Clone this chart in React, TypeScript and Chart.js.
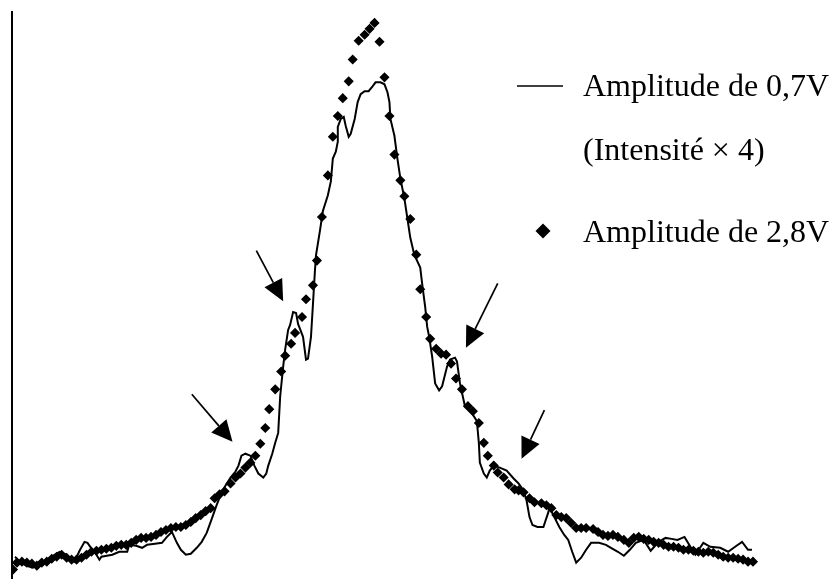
import { useEffect, useRef } from "react";
import { Chart, registerables } from "chart.js";

Chart.register(...registerables);

// Solid trace: amplitude 0,7 V (intensity × 4) — channel / intensity (arb. units)
const lowAmpChannel = [
  15, 20, 26, 33, 43, 52, 60, 67, 72, 75, 80, 85, 88, 93, 97, 100, 102, 113, 120, 128,
  130, 137, 143, 148, 156, 163, 168, 173, 178, 182, 187, 192, 198, 203, 208, 213, 218, 223, 227, 232,
  237, 240, 243, 247, 252, 256, 260, 265, 268, 270, 274, 277, 280, 282, 285, 287, 290, 292, 295, 298,
  300, 305, 308, 310, 313, 315, 317, 318, 322, 325, 330, 333, 335, 338, 340, 340, 343, 346, 348, 351,
  353, 357, 360, 363, 367, 371, 375, 378, 383, 387, 390, 392, 393, 397, 400, 403, 407, 410, 413, 417,
  423, 425, 428, 430, 432, 435, 438, 442, 445, 450, 453, 458, 460, 463, 468, 475, 480, 482, 483, 487,
  490, 493, 497, 503, 510, 517, 522, 527, 530, 533, 536, 541, 547, 552, 553, 558, 563, 568, 572, 576,
  580, 585, 590, 595, 603, 610, 615, 622, 628, 634, 640, 648, 655, 663, 670, 676, 682, 689, 695, 700,
  704, 708, 715, 725, 733, 740, 747, 753, 757,
];
const lowAmpIntensity = [
  22, 17, 13, 11, 16, 22, 27, 24, 19, 17, 28, 37, 36, 29, 24, 19, 22, 24, 27, 27,
  34, 33, 31, 34, 35, 36, 42, 47, 36, 29, 24, 25, 31, 37, 46, 60, 74, 87, 94, 102,
  108, 114, 124, 126, 124, 114, 106, 102, 106, 114, 126, 137, 147, 184, 214, 231, 251, 256, 269, 268,
  257, 244, 221, 222, 244, 277, 311, 326, 351, 371, 387, 401, 424, 431, 441, 456, 464, 466, 457, 446,
  449, 464, 481, 489, 492, 492, 497, 501, 501, 499, 491, 481, 464, 447, 424, 404, 384, 364, 344, 327,
  314, 297, 274, 254, 244, 224, 197, 190, 194, 214, 221, 223, 219, 197, 174, 167, 159, 137, 117, 106,
  102, 109, 114, 112, 109, 101, 96, 89, 79, 62, 54, 52, 52, 67, 72, 62, 52, 44, 39, 27,
  16, 21, 29, 36, 36, 34, 31, 27, 23, 29, 36, 39, 28, 37, 41, 40, 39, 42, 32, 24,
  30, 36, 32, 31, 27, 32, 37, 29, 29,
];

// Diamond markers: amplitude 2,8 V — channel / intensity (arb. units)
const highAmpChannel = [
  13, 17, 22, 27, 32, 37, 42, 47, 52, 57, 62, 67, 72, 77, 82, 87, 92, 97, 102, 107,
  112, 117, 122, 127, 132, 137, 142, 147, 152, 157, 162, 167, 172, 177, 182, 187, 192, 197, 202, 207,
  212, 216, 221, 226, 232, 237, 242, 247, 252, 257, 262, 267, 271, 277, 283, 287, 293, 297, 304, 308,
  315, 319, 324, 330, 335, 340, 345, 351, 355, 361, 367, 372, 377, 382, 387, 392, 397, 403, 407, 413,
  419, 423, 429, 433, 439, 444, 449, 454, 459, 465, 471, 476, 482, 487, 491, 497, 501, 507, 512, 518,
  522, 527, 533, 538, 545, 550, 555, 560, 565, 570, 575, 580, 585, 590, 597, 602, 607, 612, 617, 622,
  628, 633, 638, 643, 648, 653, 658, 663, 668, 673, 678, 683, 688, 693, 698, 703, 708, 713, 718, 723,
  728, 733, 738, 743, 748, 753, 758,
];
const highAmpIntensity = [
  9, 16, 17, 16, 15, 13, 16, 17, 20, 22, 24, 21, 19, 19, 21, 24, 27, 28, 29, 30,
  31, 33, 34, 34, 36, 39, 41, 41, 42, 44, 47, 49, 51, 52, 52, 54, 57, 61, 64, 68,
  71, 81, 85, 88, 96, 102, 106, 112, 117, 124, 136, 152, 171, 191, 209, 225, 237, 248, 264, 282,
  296, 321, 365, 407, 446, 467, 485, 502, 524, 543, 549, 555, 561, 542, 506, 467, 428, 402, 386, 363,
  327, 292, 264, 242, 232, 227, 226, 217, 202, 191, 174, 169, 157, 137, 124, 114, 107, 102, 95, 90,
  89, 87, 81, 77, 76, 74, 71, 64, 62, 61, 56, 51, 51, 51, 50, 47, 44, 43, 44, 42,
  39, 36, 41, 42, 40, 39, 37, 36, 34, 32, 32, 31, 29, 29, 28, 27, 26, 27, 26, 24,
  22, 21, 21, 20, 19, 17, 17,
];

const legendLabels = ["Amplitude de 0,7V", "(Intensité × 4)", "Amplitude de 2,8V"];

// Annotation arrows pointing at the shoulders: [channel, intensity]
const arrowTails = [
  [258, 331],
  [193, 186],
  [501, 298],
  [548, 170],
];
const arrowTips = [
  [285, 280],
  [234, 138],
  [469, 233],
  [525, 121],
];

const overlayPlugin = {
  id: "overlay",
  afterDatasetsDraw(chart: any) {
    const { ctx, scales } = chart;
    const xs = scales.x;
    const ys = scales.y;
    ctx.save();
    ctx.fillStyle = "#000";
    ctx.strokeStyle = "#000";

    // arrows
    const headLen = 21;
    const headHalf = 10;
    arrowTails.forEach((tail, i) => {
      const tip = arrowTips[i];
      const x0 = xs.getPixelForValue(tail[0]);
      const y0 = ys.getPixelForValue(tail[1]);
      const x1 = xs.getPixelForValue(tip[0]);
      const y1 = ys.getPixelForValue(tip[1]);
      const dx = x1 - x0;
      const dy = y1 - y0;
      const len = Math.sqrt(dx * dx + dy * dy);
      const ux = dx / len;
      const uy = dy / len;
      const bx = x1 - ux * headLen;
      const by = y1 - uy * headLen;
      ctx.lineWidth = 1.7;
      ctx.beginPath();
      ctx.moveTo(x0, y0);
      ctx.lineTo(bx, by);
      ctx.stroke();
      ctx.beginPath();
      ctx.moveTo(x1, y1);
      ctx.lineTo(bx - uy * headHalf, by + ux * headHalf);
      ctx.lineTo(bx + uy * headHalf, by - ux * headHalf);
      ctx.closePath();
      ctx.fill();
    });

    // legend
    ctx.lineWidth = 1.5;
    ctx.beginPath();
    ctx.moveTo(517, 86);
    ctx.lineTo(563, 86);
    ctx.stroke();

    ctx.font = '32px "Liberation Serif", "Times New Roman", serif';
    ctx.textBaseline = "alphabetic";
    ctx.textAlign = "left";
    ctx.fillText(legendLabels[0], 583, 96);
    ctx.fillText(legendLabels[1], 583, 160);
    ctx.fillText(legendLabels[2], 583, 242);

    const dcx = 543;
    const dcy = 231;
    const dr = 7.5;
    ctx.beginPath();
    ctx.moveTo(dcx - dr, dcy);
    ctx.lineTo(dcx, dcy - dr);
    ctx.lineTo(dcx + dr, dcy);
    ctx.lineTo(dcx, dcy + dr);
    ctx.closePath();
    ctx.fill();

    ctx.restore();
  },
};

export default function App() {
  const canvasRef = useRef<HTMLCanvasElement | null>(null);

  useEffect(() => {
    const canvas = canvasRef.current;
    if (!canvas) return;
    const chart = new Chart(canvas, {
      type: "line",
      data: {
        datasets: [
          {
            label: legendLabels[0] + " " + legendLabels[1],
            data: lowAmpChannel.map((c, i) => ({ x: c, y: lowAmpIntensity[i] })),
            borderColor: "#000",
            borderWidth: 2,
            pointRadius: 0,
            tension: 0,
            fill: false,
          },
          {
            label: legendLabels[2],
            data: highAmpChannel.map((c, i) => ({ x: c, y: highAmpIntensity[i] })),
            showLine: false,
            pointStyle: "rectRot",
            pointRadius: 4,
            pointBorderWidth: 1.5,
            pointBackgroundColor: "#000",
            pointBorderColor: "#000",
            borderColor: "#000",
            backgroundColor: "#000",
          },
        ],
      },
      options: {
        animation: false,
        responsive: false,
        devicePixelRatio: 1,
        layout: { padding: { left: 12, top: 12, right: 0, bottom: 0 } },
        plugins: {
          legend: { display: false },
          tooltip: { enabled: false },
        },
        scales: {
          x: { type: "linear", min: 12, max: 831, display: false },
          y: {
            type: "linear",
            min: 0,
            max: 572,
            position: "left",
            grid: { display: false, drawTicks: false },
            ticks: { display: false },
            border: { display: true, color: "#000", width: 2 },
          },
        },
      },
      plugins: [overlayPlugin],
    });
    return () => chart.destroy();
  }, []);

  return (
    <div
      style={{
        position: "fixed",
        left: 0,
        top: 0,
        width: 831,
        height: 584,
        background: "#fff",
      }}
    >
      <canvas ref={canvasRef} width={831} height={584} style={{ display: "block" }} />
    </div>
  );
}
